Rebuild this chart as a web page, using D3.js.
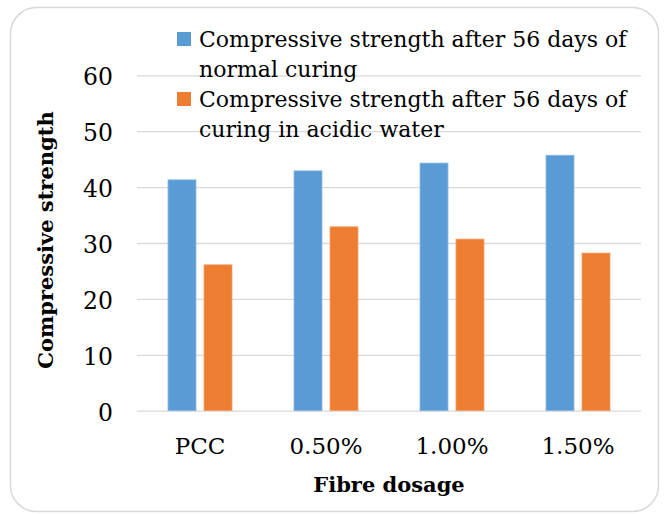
<!DOCTYPE html>
<html>
<head>
<meta charset="utf-8">
<script src="https://cdn.jsdelivr.net/npm/d3@7"></script>
<style>
  html, body { margin: 0; padding: 0; background: #ffffff; }
  svg { display: block; }
</style>
</head>
<body>
<div id="chart"></div>
<script>
// ── Data ──────────────────────────────────────
const categories = ["PCC", "0.50%", "1.00%", "1.50%"];
const seriesNames = [
  ["Compressive strength after 56 days of", "normal curing"],
  ["Compressive strength after 56 days of", "curing in acidic water"]
];
const normalCuring = [41.3, 42.9, 44.3, 45.7];
const acidicCuring = [26.1, 32.9, 30.7, 28.2];
const yTicks = [0, 10, 20, 30, 40, 50, 60];

const colors = ["#5b9bd5", "#ed7d31"];
const edges  = ["#8db8e2", "#f3a36f"];

// ── Layout ────────────────────────────────────
const W = 665, H = 514;
const plot = { left: 137, right: 641, top: 75.3, bottom: 410.7 };
const FONT = "'DejaVu Serif', serif";

const svg = d3.select("#chart")
  .append("svg")
  .attr("width", W)
  .attr("height", H);

// ── Frame ─────────────────────────────────────
svg.append("rect")
  .attr("x", 10.5).attr("y", 7.5)
  .attr("width", 648).attr("height", 504)
  .attr("rx", 26)
  .attr("fill", "#ffffff")
  .attr("stroke", "#d9d9d9")
  .attr("stroke-width", 1.5);

// ── Scales ────────────────────────────────────
const x0 = d3.scaleBand()
  .domain(categories)
  .range([plot.left, plot.right]);

const x1 = d3.scaleBand()
  .domain([0, 1])
  .range([x0.bandwidth() / 2 - 32, x0.bandwidth() / 2 + 32])
  .paddingInner(8 / 36);

const y = d3.scaleLinear()
  .domain([0, 60])
  .range([plot.bottom, plot.top]);

// ── Grid + y axis ─────────────────────────────
const yAxis = d3.axisLeft(y)
  .tickValues(yTicks)
  .tickSize(-(plot.right - plot.left))
  .tickPadding(24)
  .tickFormat(d3.format("d"));

svg.append("g")
  .attr("transform", `translate(${plot.left},0)`)
  .call(yAxis)
  .call(g => g.select(".domain").remove())
  .call(g => g.selectAll(".tick line")
    .attr("stroke", "#d9d9d9")
    .attr("stroke-width", 1.3))
  .call(g => g.selectAll(".tick text")
    .attr("fill", "#000000")
    .attr("font-size", "23.5px")
    .attr("font-family", FONT)
    .attr("dy", "0.41em"));

// ── Bars ──────────────────────────────────────
const rows = categories.map((c, i) => ({ cat: c, vals: [normalCuring[i], acidicCuring[i]] }));

const groups = svg.append("g")
  .selectAll("g")
  .data(rows)
  .join("g")
  .attr("transform", d => `translate(${x0(d.cat)},0)`);

groups.selectAll("rect")
  .data(d => d.vals.map((v, k) => ({ k, v })))
  .join("rect")
  .attr("x", d => x1(d.k))
  .attr("y", d => y(d.v))
  .attr("width", x1.bandwidth())
  .attr("height", d => y(0) - y(d.v))
  .attr("fill", d => colors[d.k])
  .attr("stroke", d => edges[d.k])
  .attr("stroke-width", 0.8);

// ── X axis labels ─────────────────────────────
svg.append("g")
  .selectAll("text")
  .data(categories)
  .join("text")
  .attr("x", d => x0(d) + x0.bandwidth() / 2)
  .attr("y", 454)
  .attr("text-anchor", "middle")
  .attr("font-size", "23px")
  .attr("font-family", FONT)
  .attr("fill", "#000000")
  .text(d => d);

// ── Axis titles ───────────────────────────────
svg.append("text")
  .attr("x", (plot.left + plot.right) / 2)
  .attr("y", 491.5)
  .attr("text-anchor", "middle")
  .attr("font-size", "21px")
  .attr("font-weight", "bold")
  .attr("font-family", FONT)
  .text("Fibre dosage");

svg.append("text")
  .attr("transform", `translate(52.5,${(plot.top + plot.bottom) / 2 - 3}) rotate(-90)`)
  .attr("text-anchor", "middle")
  .attr("font-size", "21px")
  .attr("font-weight", "bold")
  .attr("font-family", FONT)
  .text("Compressive strength");

// ── Legend ────────────────────────────────────
const legend = svg.append("g")
  .selectAll("g")
  .data(seriesNames)
  .join("g")
  .attr("transform", (d, i) => `translate(177,${32 + i * 60})`);

legend.append("rect")
  .attr("width", 14)
  .attr("height", 14)
  .attr("fill", (d, i) => colors[i]);

legend.append("text")
  .attr("font-size", "22px")
  .attr("font-family", FONT)
  .attr("fill", "#000000")
  .selectAll("tspan")
  .data(d => d)
  .join("tspan")
  .attr("x", 22)
  .attr("y", (d, j) => 14.7 + j * 30)
  .text(d => d);
</script>
</body>
</html>
